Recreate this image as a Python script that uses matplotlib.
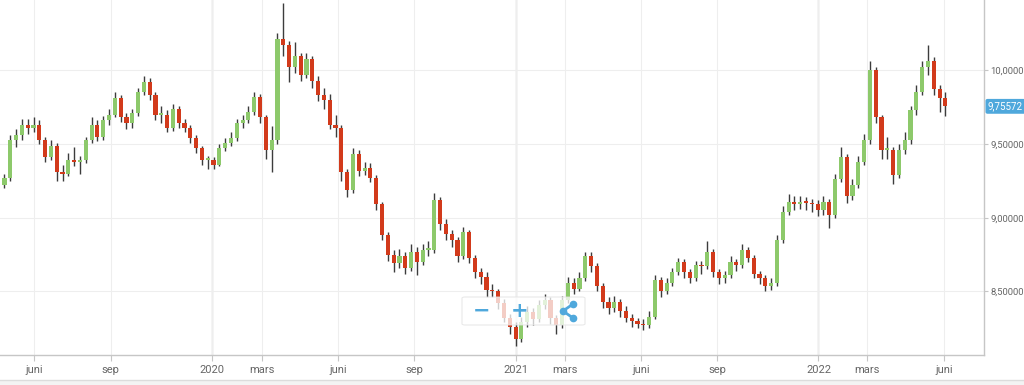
import matplotlib
matplotlib.use('Agg')
import matplotlib.pyplot as plt
import matplotlib.dates as mdates
import matplotlib.transforms as mtransforms
from matplotlib.patches import FancyBboxPatch, Rectangle
from matplotlib.lines import Line2D
import numpy as np
import pandas as pd

plt.rcParams['font.family'] = ['Roboto', 'DejaVu Sans']

# weekly OHLC (SEK), Fridays from 2019-04-26
week_start = '2019-04-26'
first_open = 9.22
closes = [9.27, 9.53, 9.56, 9.63, 9.61, 9.63, 9.53, 9.41, 9.49, 9.31,
          9.30, 9.39, 9.38, 9.39, 9.53, 9.63, 9.55, 9.66, 9.70, 9.81,
          9.68, 9.64, 9.71, 9.85, 9.92, 9.83, 9.70, 9.70, 9.61, 9.74,
          9.64, 9.61, 9.54, 9.47, 9.39, 9.39, 9.36, 9.47, 9.51, 9.54,
          9.64, 9.66, 9.72, 9.82, 9.68, 9.46, 9.53, 10.21, 10.17, 10.02,
          10.10, 9.97, 10.08, 9.93, 9.83, 9.80, 9.63, 9.61, 9.31, 9.19,
          9.43, 9.32, 9.34, 9.27, 9.09, 8.88, 8.75, 8.69, 8.74, 8.66,
          8.77, 8.70, 8.78, 8.78, 9.12, 8.96, 8.89, 8.85, 8.74, 8.90,
          8.73, 8.63, 8.60, 8.51, 8.50, 8.42, 8.32, 8.26, 8.18, 8.29,
          8.36, 8.31, 8.41, 8.44, 8.32, 8.27, 8.44, 8.56, 8.52, 8.59,
          8.74, 8.67, 8.54, 8.43, 8.39, 8.43, 8.37, 8.32, 8.30, 8.28,
          8.27, 8.33, 8.58, 8.50, 8.56, 8.63, 8.70, 8.63, 8.59, 8.68,
          8.67, 8.77, 8.63, 8.59, 8.61, 8.70, 8.68, 8.78, 8.73, 8.62,
          8.59, 8.54, 8.56, 8.85, 9.04, 9.11, 9.09, 9.11, 9.10, 9.09,
          9.05, 9.11, 9.02, 9.26, 9.41, 9.15, 9.22, 9.38, 9.53, 10.00,
          9.68, 9.46, 9.46, 9.29, 9.46, 9.53, 9.73, 9.85, 10.02, 10.06,
          9.87, 9.81, 9.75572]
highs = [9.30, 9.56, 9.60, 9.67, 9.67, 9.68, 9.66, 9.55, 9.53, 9.51,
         9.36, 9.44, 9.48, 9.42, 9.55, 9.68, 9.66, 9.69, 9.74, 9.85,
         9.83, 9.71, 9.74, 9.88, 9.96, 9.95, 9.85, 9.76, 9.73, 9.77,
         9.76, 9.67, 9.63, 9.56, 9.49, 9.42, 9.41, 9.50, 9.54, 9.58,
         9.67, 9.70, 9.76, 9.85, 9.84, 9.70, 9.62, 10.25, 10.46, 10.20,
         10.19, 10.12, 10.12, 10.10, 9.96, 9.88, 9.84, 9.70, 9.63, 9.33,
         9.47, 9.46, 9.38, 9.37, 9.29, 9.11, 8.90, 8.78, 8.79, 8.77,
         8.82, 8.80, 8.82, 8.84, 9.17, 9.14, 8.99, 8.92, 8.87, 8.94,
         8.92, 8.75, 8.66, 8.63, 8.55, 8.52, 8.45, 8.35, 8.29, 8.33,
         8.40, 8.39, 8.44, 8.48, 8.46, 8.34, 8.47, 8.60, 8.59, 8.63,
         8.77, 8.77, 8.69, 8.56, 8.46, 8.47, 8.45, 8.40, 8.35, 8.32,
         8.31, 8.37, 8.61, 8.60, 8.59, 8.66, 8.73, 8.72, 8.65, 8.71,
         8.71, 8.84, 8.79, 8.65, 8.64, 8.74, 8.72, 8.82, 8.80, 8.75,
         8.64, 8.61, 8.59, 8.88, 9.08, 9.16, 9.15, 9.15, 9.14, 9.13,
         9.12, 9.15, 9.13, 9.30, 9.48, 9.43, 9.26, 9.42, 9.57, 10.06,
         10.02, 9.70, 9.55, 9.48, 9.50, 9.58, 9.76, 9.90, 10.06, 10.17,
         10.09, 9.90, 9.85]
lows = [9.20, 9.25, 9.48, 9.53, 9.57, 9.58, 9.50, 9.38, 9.39, 9.25,
        9.25, 9.28, 9.35, 9.30, 9.37, 9.51, 9.52, 9.53, 9.63, 9.68,
        9.65, 9.60, 9.61, 9.69, 9.83, 9.80, 9.66, 9.64, 9.58, 9.59,
        9.61, 9.58, 9.51, 9.44, 9.36, 9.33, 9.33, 9.35, 9.45, 9.49,
        9.52, 9.61, 9.64, 9.70, 9.64, 9.40, 9.31, 9.50, 10.10, 9.92,
        9.98, 9.93, 9.95, 9.88, 9.79, 9.74, 9.60, 9.55, 9.25, 9.14,
        9.17, 9.28, 9.29, 9.24, 9.05, 8.85, 8.71, 8.63, 8.66, 8.62,
        8.64, 8.61, 8.68, 8.74, 8.76, 8.92, 8.85, 8.80, 8.70, 8.72,
        8.69, 8.59, 8.55, 8.46, 8.46, 8.38, 8.29, 8.21, 8.13, 8.16,
        8.26, 8.27, 8.29, 8.38, 8.28, 8.21, 8.25, 8.42, 8.48, 8.50,
        8.57, 8.63, 8.50, 8.39, 8.35, 8.36, 8.33, 8.29, 8.26, 8.25,
        8.24, 8.25, 8.31, 8.46, 8.48, 8.54, 8.61, 8.59, 8.56, 8.57,
        8.62, 8.65, 8.60, 8.55, 8.56, 8.59, 8.64, 8.66, 8.70, 8.59,
        8.55, 8.50, 8.51, 8.54, 8.83, 9.02, 9.05, 9.06, 9.05, 9.04,
        9.01, 9.02, 8.93, 9.00, 9.24, 9.10, 9.12, 9.20, 9.36, 9.50,
        9.64, 9.40, 9.40, 9.23, 9.27, 9.43, 9.50, 9.70, 9.83, 9.97,
        9.83, 9.72, 9.69]

yticks = [8.5, 9.0, 9.5, 10.0]
month_names = {3: 'mars', 6: 'juni', 9: 'sep'}

dates = pd.date_range(week_start, periods=len(closes), freq='W-FRI')
opens = [first_open] + closes[:-1]

fig = plt.figure(figsize=(10.24, 3.85), dpi=100)
ax = fig.add_axes([0, 30 / 385, 984 / 1024, 355 / 385])

x = mdates.date2num(dates)
o = np.array(opens)
c = np.array(closes)
up = c >= o
body_colors = np.where(up, '#8dc96b', '#d23a1b')

ax.vlines(x, lows, highs, color='#3c3c3c', lw=1, zorder=2)
ax.bar(x, np.maximum(np.abs(c - o), 0.012), bottom=np.minimum(o, c),
       width=5.0, color=body_colors, linewidth=0, zorder=3)

ax.set_xlim(mdates.date2num(pd.Timestamp('2019-04-20 15:00')),
            mdates.date2num(pd.Timestamp('2022-07-19 12:00')))
ax.set_ylim(8.069, 10.477)

# x axis: month ticks, Swedish names, years at january
ax.xaxis.set_major_locator(mdates.MonthLocator(bymonth=[1, 3, 6, 9]))
def fmt_date(v, pos=None):
    d = mdates.num2date(v)
    return str(d.year) if d.month == 1 else month_names[d.month]
ax.xaxis.set_major_formatter(plt.FuncFormatter(fmt_date))

ax.yaxis.tick_right()
ax.set_yticks(yticks)
ax.yaxis.set_major_formatter(plt.FuncFormatter(lambda v, p: f'{v:.5f}'.replace('.', ',')))

ax.grid(axis='x', color='#eeeeee', lw=0.8, zorder=0)
ax.grid(axis='y', color='#eeeeee', lw=0.8, zorder=0)
for yr in [2020, 2021, 2022]:
    ax.axvline(mdates.date2num(pd.Timestamp(f'{yr}-01-01')), color='#cfcfcf', lw=1, zorder=1)

for s in ['top', 'left']:
    ax.spines[s].set_visible(False)
for s in ['right', 'bottom']:
    ax.spines[s].set_color('#c6c6c6')
    ax.spines[s].set_linewidth(1)

ax.tick_params(axis='x', length=4, color='#c6c6c6', labelcolor='#666666', labelsize=8, pad=3)
ax.tick_params(axis='y', length=3, color='#c6c6c6', labelcolor='#666666', labelsize=6.8, pad=1.5)

# last price label
trans = mtransforms.blended_transform_factory(ax.transAxes, ax.transData)
ax.text(1.004, closes[-1], f'{closes[-1]:.5f}'.replace('.', ','), transform=trans,
        ha='left', va='center', color='white', fontsize=7, clip_on=False, zorder=6,
        bbox=dict(boxstyle='round,pad=0.25,rounding_size=0.2', fc='#4fa8dc', ec='none'))

# zoom / share buttons overlay
def fx(px):
    return px / 1024
def fy(py):
    return 1 - py / 385
btn = FancyBboxPatch((fx(462), fy(325)), fx(123), 28 / 385, transform=fig.transFigure,
                     boxstyle='round,pad=0,rounding_size=0.003', fc='white', alpha=0.75,
                     ec='#e2e2e2', lw=0.8, zorder=5)
fig.add_artist(btn)
fig.text(fx(482), fy(311), '\u2212', color='#4fa8dc', fontsize=15, fontweight='bold',
         family='DejaVu Sans', ha='center', va='center', zorder=6)
fig.text(fx(520), fy(311), '+', color='#4fa8dc', fontsize=15, fontweight='bold',
         family='DejaVu Sans', ha='center', va='center', zorder=6)
sx = [fx(573), fx(563), fx(573)]
sy = [fy(304), fy(311), fy(318)]
fig.add_artist(Line2D(sx, sy, transform=fig.transFigure, color='#4fa8dc', lw=2,
                      marker='o', markersize=4.5, zorder=6))

# navigator strip at the bottom
fig.add_artist(Rectangle((0, 0), 1, 5 / 385, transform=fig.transFigure,
                         fc='#f3f3f3', ec='none', zorder=1))
fig.add_artist(Line2D([0, 1], [fy(380), fy(380)], transform=fig.transFigure,
                      color='#dcdcdc', lw=1, zorder=2))

fig.savefig('out.png', dpi=100)
